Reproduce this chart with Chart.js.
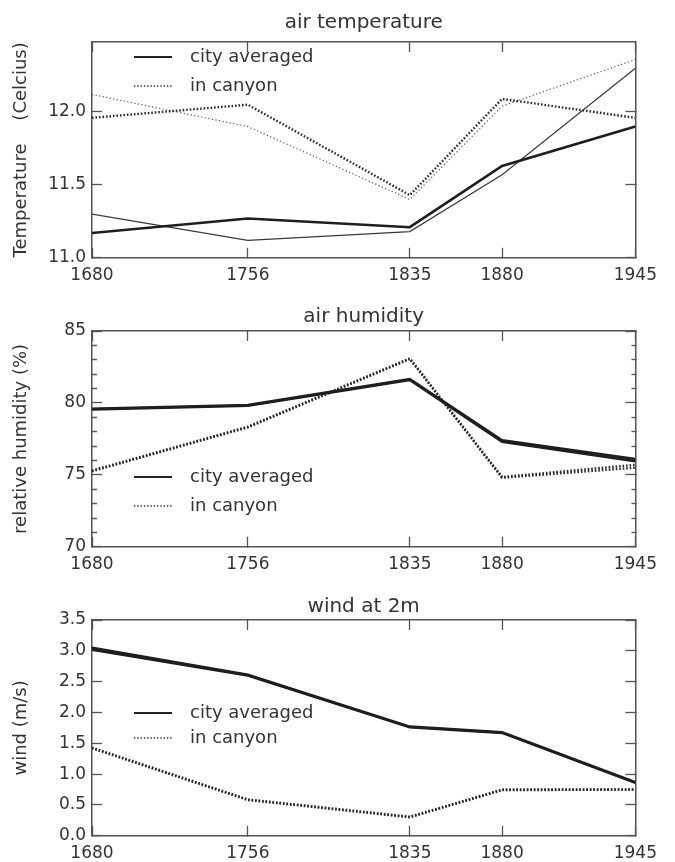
<!DOCTYPE html>
<html>
<head>
<meta charset="utf-8">
<script src="https://cdn.jsdelivr.net/npm/chart.js@4.4.1/dist/chart.umd.min.js"></script>
<style>
  body { margin: 0; background: #fff; width: 675px; height: 862px; overflow: hidden; position: relative; }
  canvas { position: absolute; left: 0; }
</style>
</head>
<body>
<canvas id="temp" width="675" height="284" style="top:0px"></canvas>
<canvas id="hum" width="675" height="284" style="top:289px"></canvas>
<canvas id="wind" width="675" height="284" style="top:578px"></canvas>
<script>
const years = [1680, 1756, 1835, 1880, 1945];

// air temperature (Celcius), two runs each
const tempCityA = [11.17, 11.27, 11.21, 11.63, 11.90];
const tempCityB = [11.30, 11.12, 11.18, 11.57, 12.30];
const tempCanyonA = [11.96, 12.05, 11.43, 12.09, 11.96];
const tempCanyonB = [12.12, 11.90, 11.40, 12.04, 12.36];

// relative humidity (%)
const humCityA = [79.6, 79.85, 81.65, 77.4, 76.1];
const humCityB = [79.55, 79.8, 81.6, 77.3, 75.95];
const humCanyonA = [75.3, 78.35, 83.1, 74.85, 75.7];
const humCanyonB = [75.25, 78.3, 83.05, 74.8, 75.5];

// wind at 2m (m/s)
const windCityA = [3.05, 2.61, 1.77, 1.68, 0.87];
const windCityB = [3.02, 2.60, 1.76, 1.67, 0.86];
const windCanyonA = [1.43, 0.59, 0.31, 0.75, 0.75];
const windCanyonB = [1.42, 0.58, 0.30, 0.74, 0.75];

const legendLabels = ['city averaged', 'in canyon'];

const ink = '#333';
const family = 'DejaVu Sans';

const styles = {
  thickSolid: { borderColor: '#1e1e1e', borderWidth: 2.6, borderDash: [] },
  thinSolid: { borderColor: '#3a3a3a', borderWidth: 1.2, borderDash: [] },
  thickDot: { borderColor: '#2a2a2a', borderWidth: 2.4, borderDash: [1.6, 1.9] },
  thinDot: { borderColor: '#555', borderWidth: 1.2, borderDash: [1.2, 2.4] },
};

function series(values, style) {
  return Object.assign({
    data: years.map((x, i) => ({ x: x, y: values[i] })),
    pointRadius: 0,
    tension: 0,
    fill: false,
  }, styles[style]);
}

// legend drawn inside the plot box, like the original
const insideLegend = {
  id: 'insideLegend',
  afterDatasetsDraw(chart, args, opts) {
    const { ctx, chartArea } = chart;
    const samples = [
      { width: 2.2, dash: [] },
      { width: 1.3, dash: [1.3, 2] },
    ];
    ctx.save();
    samples.forEach((s, i) => {
      const y = chartArea.top + opts.rows[i];
      ctx.beginPath();
      ctx.setLineDash(s.dash);
      ctx.lineWidth = s.width;
      ctx.strokeStyle = '#222';
      ctx.moveTo(134, y);
      ctx.lineTo(172, y);
      ctx.stroke();
      ctx.setLineDash([]);
      ctx.fillStyle = ink;
      ctx.font = '18px "' + family + '"';
      ctx.textBaseline = 'middle';
      ctx.fillText(legendLabels[i], 190, y);
    });
    ctx.restore();
  }
};

function yearTicks(scale) {
  scale.ticks = years.map(v => ({ value: v }));
}

function panel(id, p) {
  const isMinor = c => p.major && c.tick && Math.abs(c.tick.value % p.major) > 1e-6;
  const border = { display: true, color: '#555', width: 1.5 };
  const grid = { drawOnChartArea: false, tickLength: -10, tickColor: '#555', tickWidth: 1.3 };

  new Chart(document.getElementById(id), {
    type: 'line',
    data: { datasets: p.datasets },
    options: {
      responsive: false,
      animation: false,
      layout: { padding: 0 },
      plugins: {
        legend: { display: false },
        tooltip: { enabled: false },
        title: {
          display: true,
          text: p.title,
          fullSize: false,
          color: ink,
          font: { family: family, size: 20, weight: 'normal' },
          padding: { top: p.titleTop, bottom: 0 },
        },
        insideLegend: { rows: p.legendRows },
      },
      scales: {
        x: {
          type: 'linear',
          position: 'bottom',
          min: 1680,
          max: 1945,
          afterBuildTicks: yearTicks,
          afterFit: s => { s.height = 25; },
          border: border,
          grid: grid,
          ticks: {
            autoSkip: false, maxRotation: 0, padding: 18, color: ink,
            font: { family: family, size: 17 },
            callback: v => String(v),
          },
        },
        xTop: {
          type: 'linear',
          position: 'top',
          min: 1680,
          max: 1945,
          afterBuildTicks: yearTicks,
          afterFit: s => { s.height = p.topAxis; },
          border: border,
          grid: grid,
          ticks: { display: false },
        },
        y: {
          position: 'left',
          min: p.min,
          max: p.max,
          afterFit: s => { s.width = 92; },
          border: border,
          grid: Object.assign({}, grid, {
            tickBorderDash: c => isMinor(c) ? [0, 5, 10, 100] : [],
          }),
          title: {
            display: true,
            text: p.yTitle,
            color: ink,
            font: { family: family, size: 18 },
            padding: { top: 11, bottom: 0 },
          },
          ticks: {
            stepSize: p.step,
            autoSkip: false,
            includeBounds: false,
            padding: 16,
            color: ink,
            font: { family: family, size: 17 },
            callback: p.fmt,
          },
        },
        yRight: {
          position: 'right',
          min: p.min,
          max: p.max,
          afterFit: s => { s.width = 26; },
          border: border,
          grid: Object.assign({}, grid, {
            tickBorderDash: c => isMinor(c) ? [5, 100] : [],
          }),
          ticks: { display: false, stepSize: p.step, includeBounds: false },
        },
      },
    },
    plugins: [insideLegend],
  });
}

panel('temp', {
  title: 'air temperature',
  titleTop: 11,
  topAxis: 7,
  yTitle: 'Temperature    (Celcius)',
  min: 11.0, max: 12.48, step: 0.5,
  fmt: v => v.toFixed(1),
  legendRows: [15, 44],
  datasets: [
    series(tempCityA, 'thickSolid'),
    series(tempCityB, 'thinSolid'),
    series(tempCanyonA, 'thickDot'),
    series(tempCanyonB, 'thinDot'),
  ],
});

panel('hum', {
  title: 'air humidity',
  titleTop: 16,
  topAxis: 2,
  yTitle: 'relative humidity (%)',
  min: 70, max: 85, step: 1, major: 5,
  fmt: v => (v % 5 === 0 ? String(v) : ''),
  legendRows: [146, 175],
  datasets: [
    series(humCityA, 'thickSolid'),
    series(humCityB, 'thickSolid'),
    series(humCanyonA, 'thickDot'),
    series(humCanyonB, 'thickDot'),
  ],
});

panel('wind', {
  title: 'wind at 2m',
  titleTop: 17,
  topAxis: 1,
  yTitle: 'wind (m/s)',
  min: 0, max: 3.5, step: 0.5,
  fmt: v => v.toFixed(1),
  legendRows: [93, 118],
  datasets: [
    series(windCityA, 'thickSolid'),
    series(windCityB, 'thickSolid'),
    series(windCanyonA, 'thickDot'),
    series(windCanyonB, 'thickDot'),
  ],
});
</script>
</body>
</html>
